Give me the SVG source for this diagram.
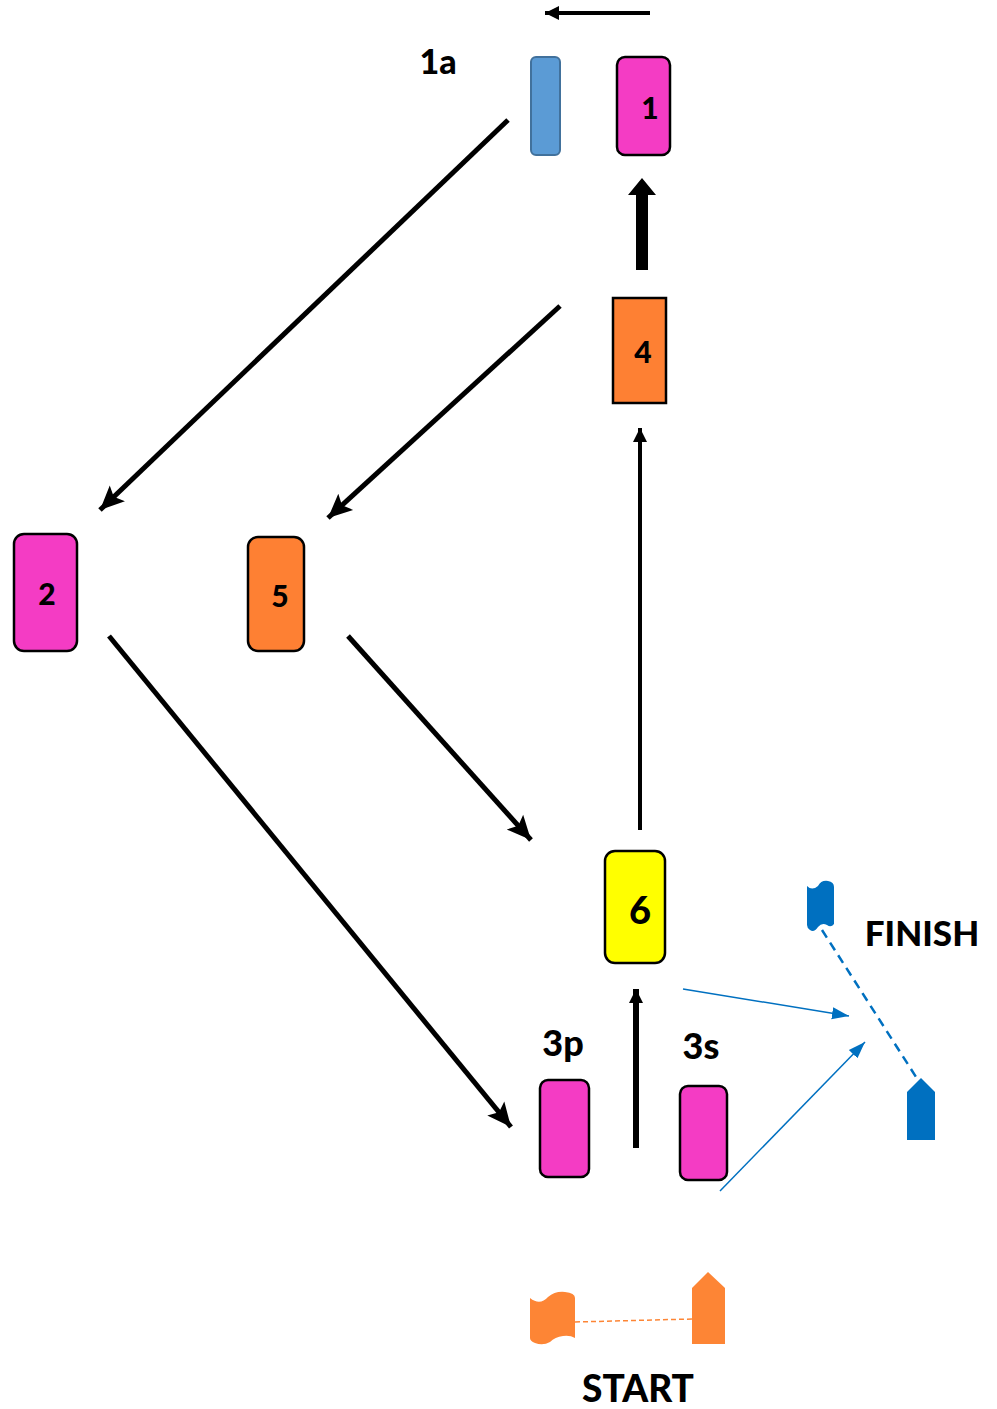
<svg xmlns="http://www.w3.org/2000/svg" width="997" height="1409" viewBox="0 0 997 1409">
<style>
.lbl{font-family:Lato,"Liberation Sans",sans-serif;font-weight:900;fill:#000;text-anchor:middle}
.mag{fill:#F43CC4;stroke:#000;stroke-width:2.5}
.org{fill:#FE8033;stroke:#000;stroke-width:2.5}
.blk{stroke:#000;fill:none}
.blu{stroke:#0070C0;stroke-width:1.5;fill:none}
</style>
<defs>
<marker id="ah" markerUnits="userSpaceOnUse" markerWidth="26" markerHeight="26" viewBox="0 0 26 26" refX="24" refY="13" orient="auto">
<path d="M0,2 L24,13 L0,24 L5,13 Z" fill="#000"/>
</marker>
<marker id="ahs" markerUnits="userSpaceOnUse" markerWidth="16" markerHeight="16" viewBox="0 0 16 16" refX="14" refY="8" orient="auto">
<path d="M0,1 L14,8 L0,15 Z" fill="#000"/>
</marker>
<marker id="ahb" markerUnits="userSpaceOnUse" markerWidth="18" markerHeight="18" viewBox="0 0 18 18" refX="17" refY="9" orient="auto">
<path d="M0,3 L17,9 L0,15 Z" fill="#0070C0"/>
</marker>
</defs>
<g id="connectors">
<line class="blk" x1="650" y1="13" x2="545" y2="13" stroke-width="4" marker-end="url(#ahs)"/>
<path id="thick-arrow" d="M636,270 L636,195 L628,195 L642,178 L656,195 L648,195 L648,270 Z" fill="#000"/>
<line class="blk" x1="508" y1="120" x2="100" y2="510" stroke-width="5" marker-end="url(#ah)"/>
<line class="blk" x1="560" y1="306" x2="328" y2="518" stroke-width="5" marker-end="url(#ah)"/>
<line class="blk" x1="109" y1="636" x2="511" y2="1127" stroke-width="5" marker-end="url(#ah)"/>
<line class="blk" x1="348" y1="636" x2="531" y2="840" stroke-width="5" marker-end="url(#ah)"/>
<line class="blk" x1="640" y1="830" x2="640" y2="428" stroke-width="4" marker-end="url(#ahs)"/>
<line class="blk" x1="636" y1="1148" x2="636" y2="989" stroke-width="6" marker-end="url(#ahs)"/>
<line class="blu" x1="683" y1="989" x2="849" y2="1016" marker-end="url(#ahb)"/>
<line class="blu" x1="720" y1="1191" x2="865" y2="1042" marker-end="url(#ahb)"/>
<line x1="822" y1="930" x2="918" y2="1080" stroke="#0070C0" stroke-width="2.5" stroke-dasharray="9,6"/>
<line x1="575" y1="1322" x2="692" y2="1319" stroke="#FD8535" stroke-width="1.5" stroke-dasharray="5,3"/>
</g>
<g id="node-1a">
<rect x="531" y="57" width="29" height="98" rx="5" fill="#5B9BD5" stroke="#41719C" stroke-width="2"/>
<text class="lbl" x="438" y="74" font-size="34">1a</text>
</g>
<g id="node-1">
<rect class="mag" x="617" y="57" width="53" height="98" rx="8"/>
<text class="lbl" x="650" y="119" font-size="30">1</text>
</g>
<g id="node-4">
<rect class="org" x="613" y="298" width="53" height="105"/>
<text class="lbl" x="643" y="363" font-size="30">4</text>
</g>
<g id="node-2">
<rect class="mag" x="14" y="534" width="63" height="117" rx="10"/>
<text class="lbl" x="47" y="605" font-size="30">2</text>
</g>
<g id="node-5">
<rect class="org" x="248" y="537" width="56" height="114" rx="10"/>
<text class="lbl" x="280" y="607" font-size="30">5</text>
</g>
<g id="node-6">
<rect x="605" y="851" width="60" height="112" rx="10" fill="#FFFF00" stroke="#000" stroke-width="2.5"/>
<text class="lbl" x="640" y="924" font-size="38">6</text>
</g>
<g id="node-3p">
<rect class="mag" x="540" y="1080" width="49" height="97" rx="8"/>
<text class="lbl" x="563" y="1056" font-size="36">3p</text>
</g>
<g id="node-3s">
<rect class="mag" x="680" y="1086" width="47" height="94" rx="8"/>
<text class="lbl" x="701" y="1059" font-size="36">3s</text>
</g>
<g id="finish">
<path d="M807,886 Q812,891 818,886 Q821,880 828,881 Q834,882 834,887 L834,924 Q831,928 827,925 Q822,922 818,927 Q814,933 810,930 Q807,928 807,925 Z" fill="#0070C0"/>
<path d="M907,1092 L921,1078 L935,1092 L935,1140 L907,1140 Z" fill="#0070C0"/>
<text class="lbl" x="922" y="946" font-size="35">FINISH</text>
</g>
<g id="start">
<path d="M530,1298 Q540,1306 548,1297 Q555,1291 565,1292 Q575,1293 575,1298 L575,1338 Q570,1335 563,1336 Q555,1337 550,1342 Q543,1346 535,1343 Q530,1341 530,1338 Z" fill="#FD8535"/>
<path d="M692,1288 L708,1272 L725,1288 L725,1344 L692,1344 Z" fill="#FD8535"/>
<text class="lbl" x="638" y="1402" font-size="37">START</text>
</g>
</svg>
